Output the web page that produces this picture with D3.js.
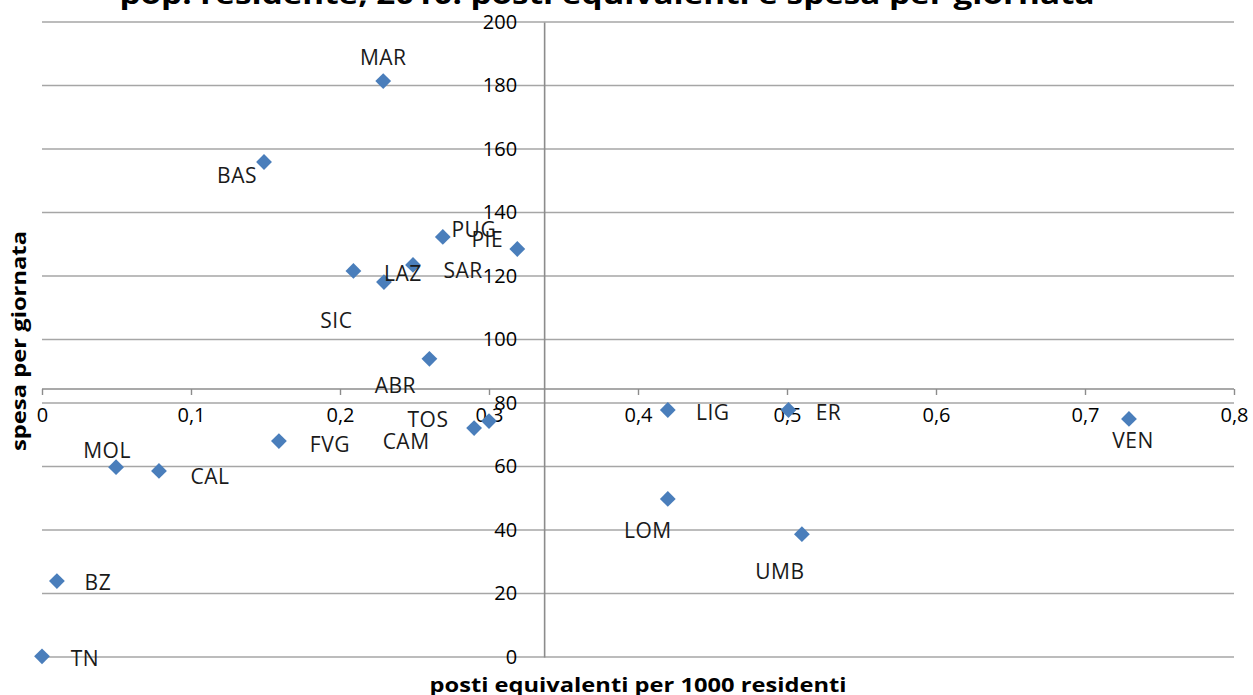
<!DOCTYPE html>
<html><head><meta charset="utf-8">
<script src="https://cdn.jsdelivr.net/npm/d3@7"></script>
<style>
html,body{margin:0;padding:0;background:#fff;overflow:hidden}
svg{display:block;font-family:"Open Sans", sans-serif}
</style></head>
<body><svg id="c" width="1253" height="695"></svg>
<script>
const regions = ["MAR","BAS","PUG","PIE","SAR","SIC","LAZ","ABR","TOS","CAM","LIG","ER","VEN","FVG","MOL","CAL","LOM","UMB","BZ","TN"];
const posti   = [0.229,0.149,0.269,0.319,0.249,0.209,0.2295,0.260,0.300,0.290,0.420,0.501,0.7295,0.159,0.0497,0.0785,0.420,0.510,0.010,0.000];
const spesa   = [181.4,155.9,132.3,128.5,123.5,121.6,118.1,93.9,74.3,72.1,77.8,77.8,75.0,68.0,59.8,58.6,49.8,38.7,23.9,0.2];
const xTicks = [0,0.1,0.2,0.3,0.4,0.5,0.6,0.7,0.8];
const yTicks = [0,20,40,60,80,100,120,140,160,180,200];
const axisCrossX = 0.337;   // value of x where vertical axis crosses
const axisCrossY = 84.4;    // value of y where horizontal axis crosses
const titleText = "pop. residente, 2010: posti equivalenti e spesa per giornata";
const xTitle = "posti equivalenti per 1000 residenti";
const yTitle = "spesa per giornata";

// label placement offsets (px) relative to each point
const labelOffset = {
  MAR:[0,-24], BAS:[-27,13], PUG:[31,-8], PIE:[-30,-10], SAR:[50,5], SIC:[-17,49],
  LAZ:[19,-9], ABR:[-34,26], TOS:[-61,-2], CAM:[-68,13], LIG:[45,2], ER:[40,2],
  VEN:[4,21], FVG:[51,3], MOL:[-9,-17], CAL:[51,5], LOM:[-20,31], UMB:[-22,37],
  BZ:[41,1], TN:[43,2]
};

const svg = d3.select("#c");
const x = d3.scaleLinear().domain([0,0.8]).range([42,1234]);
const y = d3.scaleLinear().domain([0,200]).range([657,22]);
const fmt = d => d===0 ? "0" : d3.format(".1f")(d).replace(".",",");
const grid = "#a6a6a6";
const FONT = '"Open Sans", sans-serif';

// title (cut off at top)
svg.append("text").attr("x",607).attr("y",4).attr("text-anchor","middle")
  .attr("font-weight","bold").attr("font-size",27).attr("fill","#000")
  .attr("textLength",975).attr("lengthAdjust","spacingAndGlyphs")
  .text(titleText);

// horizontal gridlines
svg.append("g").selectAll("line").data(yTicks).join("line")
  .attr("x1",x(0)).attr("x2",x(0.8)).attr("y1",d=>y(d)).attr("y2",d=>y(d))
  .attr("stroke",grid).attr("stroke-width",1.6);

// horizontal axis
const xa = svg.append("g").attr("transform",`translate(0,${y(axisCrossY)})`)
  .call(d3.axisBottom(x).tickValues(xTicks).tickFormat(fmt).tickSize(6).tickPadding(27));
xa.select(".domain").attr("stroke","#8c8c8c").attr("stroke-width",1.6)
  .attr("d",`M${x(0)},0H${x(0.8)}`);
xa.selectAll(".tick line").attr("stroke","#8c8c8c").attr("stroke-width",1.4);
xa.selectAll(".tick text").attr("font-size",20).attr("fill","#000").attr("font-family",FONT)
  .attr("dy","0");

// vertical axis
const ya = svg.append("g").attr("transform",`translate(${x(axisCrossX)},0)`)
  .call(d3.axisLeft(y).tickValues(yTicks).tickFormat(d3.format("d")).tickSize(0).tickPadding(27));
ya.select(".domain").attr("stroke","#8c8c8c").attr("stroke-width",1.6);
ya.selectAll(".tick text").attr("font-size",20).attr("fill","#000").attr("font-family",FONT);

// points
const pts = regions.map((r,i)=>({r, x:posti[i], y:spesa[i]}));
const sym = d3.symbol().type(d3.symbolSquare).size(125);
svg.append("g").selectAll("path").data(pts).join("path")
  .attr("d",sym)
  .attr("transform",d=>`translate(${x(d.x)},${y(d.y)}) rotate(45)`)
  .attr("fill","#4a7ebb");

// labels
svg.append("g").selectAll("text").data(pts).join("text")
  .attr("x",d=>x(d.x)+labelOffset[d.r][0])
  .attr("y",d=>y(d.y)+labelOffset[d.r][1])
  .attr("text-anchor","middle").attr("dominant-baseline","central")
  .attr("font-size",21).attr("letter-spacing",0.5).attr("fill","#1a1a1a")
  .text(d=>d.r);

// axis titles
svg.append("text").attr("x",638).attr("y",684).attr("text-anchor","middle")
  .attr("dominant-baseline","central").attr("font-weight","bold").attr("font-size",20)
  .attr("textLength",417).attr("lengthAdjust","spacingAndGlyphs")
  .text(xTitle);
svg.append("text").attr("transform","translate(18,341) rotate(-90)").attr("text-anchor","middle")
  .attr("dominant-baseline","central").attr("font-weight","bold").attr("font-size",20)
  .attr("textLength",220).attr("lengthAdjust","spacingAndGlyphs")
  .text(yTitle);
</script></body></html>
